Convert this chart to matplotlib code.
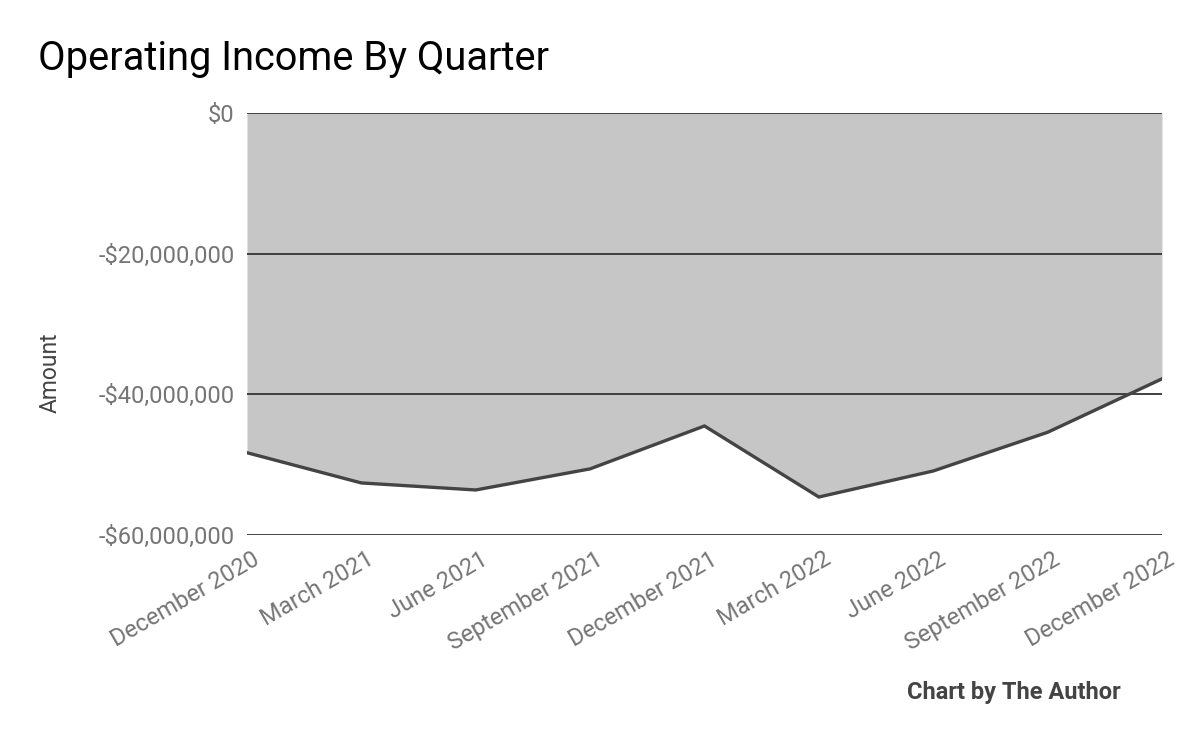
import matplotlib.pyplot as plt
import matplotlib.transforms as mtransforms
from matplotlib.ticker import FuncFormatter

plt.rcParams['font.family'] = ['Roboto', 'DejaVu Sans']

# Data
quarters = ['December 2020', 'March 2021', 'June 2021', 'September 2021',
            'December 2021', 'March 2022', 'June 2022', 'September 2022',
            'December 2022']
operating_income = [-48.3e6, -52.6e6, -53.6e6, -50.6e6, -44.5e6,
                    -54.6e6, -50.9e6, -45.4e6, -37.8e6]

fig = plt.figure(figsize=(12, 7.42), dpi=100)
ax = fig.add_axes([0.2058, 0.2790, 0.7625, 0.5687])

x = list(range(len(quarters)))
ax.fill_between(x, operating_income, 0, color='#c6c6c6', linewidth=0, zorder=1)
ax.plot(x, operating_income, color='#444444', linewidth=2.4, zorder=3,
        solid_joinstyle='miter')

ax.set_xlim(0, len(quarters) - 1)
ax.set_ylim(-60e6, 0)
ax.set_yticks([0, -20e6, -40e6, -60e6])


def money(v, pos):
    if v == 0:
        return '$0'
    return f"-${abs(v):,.0f}"


ax.yaxis.set_major_formatter(FuncFormatter(money))
ax.grid(axis='y', color='#333333', linewidth=1.3, zorder=2)
ax.set_axisbelow(False)
for s in ax.spines.values():
    s.set_visible(False)
ax.tick_params(axis='both', length=0, labelsize=17, labelcolor='#757575')
ax.tick_params(axis='y', pad=9)

ax.set_xticks(x)
ax.set_xticklabels(quarters, rotation=30, ha='right', va='top',
                   rotation_mode='anchor')
ax.tick_params(axis='x', pad=9)
shift = mtransforms.ScaledTranslation(5 / 100, 0, fig.dpi_scale_trans)
for lbl in ax.get_xticklabels():
    lbl.set_transform(lbl.get_transform() + shift)

ax.set_ylabel('Amount', fontsize=16.5, color='#444444')
ax.yaxis.set_label_coords(-0.2022, 0.384)

fig.text(0.032, 0.905, 'Operating Income By Quarter', fontsize=28.7,
         color='#000000', ha='left', va='baseline')
fig.text(0.934, 0.058, 'Chart by The Author', fontsize=17,
         fontweight='bold', color='#444444', ha='right', va='baseline')

fig.savefig('out.png', dpi=100, facecolor='white')
